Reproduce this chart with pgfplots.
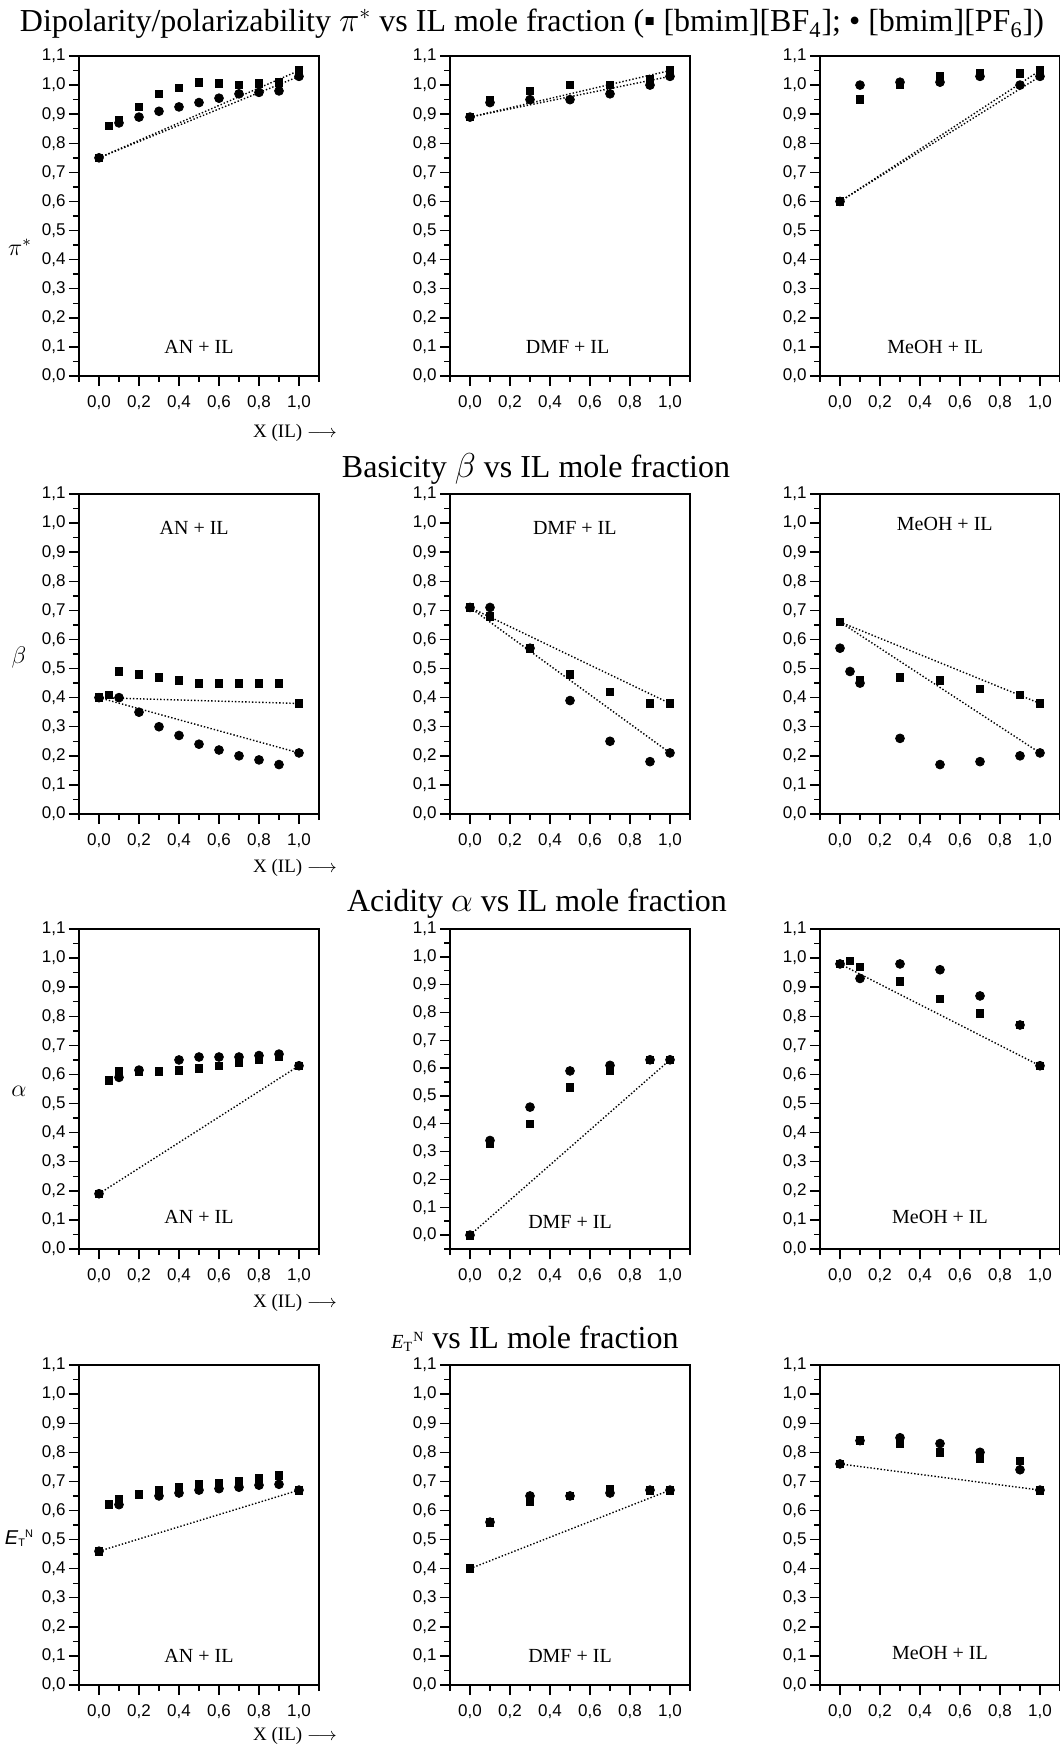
\documentclass[border=0pt]{standalone}
\usepackage{fontspec}
\setmainfont{Liberation Serif}
\setsansfont{Liberation Sans}
\usepackage{pgfplots}
\pgfplotsset{compat=1.18}

\pgfplotsset{
  panel/.style={
    scale only axis, width=120pt, height=160pt,
    xmin=-0.1, xmax=1.1, ymin=0, ymax=1.1,
    xtick={0,0.2,0.4,0.6,0.8,1.0},
    minor xtick={-0.1,0.1,0.3,0.5,0.7,0.9,1.1},
    ytick={0,0.1,0.2,0.3,0.4,0.5,0.6,0.7,0.8,0.9,1.0,1.1},
    minor ytick={0.05,0.15,0.25,0.35,0.45,0.55,0.65,0.75,0.85,0.95,1.05},
    tick pos=left, tick align=outside,
    major tick length=5pt, minor tick length=3pt,
    axis line style={line width=0.9pt},
    every tick/.style={black, line width=0.7pt},
    tick label style={font=\sffamily\fontsize{8.5}{10}\selectfont,
      /pgf/number format/fixed, /pgf/number format/fixed zerofill,
      /pgf/number format/precision=1, /pgf/number format/use comma,
      /pgf/number format/assume math mode=true},
    xticklabel style={yshift=-1.5pt},
    yticklabel style={inner xsep=1.5pt},
    clip=false,
  },
  bf/.style={only marks, mark=square*, mark size=1.9pt, black},
  pf/.style={only marks, mark=*, mark size=2.2pt, black},
  ideal/.style={densely dotted, line width=0.7pt, black, mark=none},
}
\tikzset{lab/.style={font=\fontsize{10}{12}\selectfont},
  ttl/.style={font=\fontsize{16}{19}\selectfont},
  xl/.style={font=\fontsize{9.5}{11}\selectfont}}

\begin{document}
\begin{tikzpicture}
\useasboundingbox (0,0) rectangle (530pt,-873pt);

% ---------- row 1: pi* ----------
\begin{axis}[panel, at={(39.5pt,-28pt)}, anchor=north west]
\addplot[ideal] coordinates {(0,0.75) (1,1.05)};
\addplot[ideal] coordinates {(0,0.75) (1,1.03)};
\addplot[bf] coordinates {(0,0.75) (0.05,0.86) (0.1,0.88) (0.2,0.925) (0.3,0.97) (0.4,0.99) (0.5,1.01) (0.6,1.005) (0.7,1.0) (0.8,1.005) (0.9,1.01) (1,1.05)};
\addplot[pf] coordinates {(0,0.75) (0.1,0.87) (0.2,0.89) (0.3,0.91) (0.4,0.925) (0.5,0.94) (0.6,0.955) (0.7,0.97) (0.8,0.975) (0.9,0.98) (1,1.03)};
\node[lab] at (rel axis cs:0.5,0.09) {AN + IL};
\end{axis}
\begin{axis}[panel, at={(225pt,-28pt)}, anchor=north west]
\addplot[ideal] coordinates {(0,0.89) (1,1.05)};
\addplot[ideal] coordinates {(0,0.89) (1,1.03)};
\addplot[bf] coordinates {(0,0.89) (0.1,0.947) (0.3,0.98) (0.5,1.0) (0.7,1.0) (0.9,1.02) (1,1.05)};
\addplot[pf] coordinates {(0,0.89) (0.1,0.94) (0.3,0.95) (0.5,0.95) (0.7,0.97) (0.9,1.0) (1,1.03)};
\node[lab] at (rel axis cs:0.49,0.09) {DMF + IL};
\end{axis}
\begin{axis}[panel, at={(410pt,-28pt)}, anchor=north west]
\addplot[ideal] coordinates {(0,0.60) (1,1.05)};
\addplot[ideal] coordinates {(0,0.60) (1,1.03)};
\addplot[bf] coordinates {(0,0.60) (0.1,0.95) (0.3,1.0) (0.5,1.03) (0.7,1.04) (0.9,1.04) (1,1.05)};
\addplot[pf] coordinates {(0,0.60) (0.1,1.0) (0.3,1.01) (0.5,1.01) (0.7,1.03) (0.9,1.0) (1,1.03)};
\node[lab] at (rel axis cs:0.48,0.09) {MeOH + IL};
\end{axis}

% ---------- row 2: beta ----------
\begin{axis}[panel, at={(39.5pt,-247pt)}, anchor=north west]
\addplot[ideal] coordinates {(0,0.40) (1,0.38)};
\addplot[ideal] coordinates {(0,0.40) (1,0.21)};
\addplot[bf] coordinates {(0,0.40) (0.05,0.41) (0.1,0.49) (0.2,0.48) (0.3,0.47) (0.4,0.46) (0.5,0.45) (0.6,0.45) (0.7,0.45) (0.8,0.45) (0.9,0.45) (1,0.38)};
\addplot[pf] coordinates {(0,0.40) (0.1,0.40) (0.2,0.35) (0.3,0.30) (0.4,0.27) (0.5,0.24) (0.6,0.22) (0.7,0.20) (0.8,0.186) (0.9,0.17) (1,0.21)};
\node[lab] at (rel axis cs:0.48,0.895) {AN + IL};
\end{axis}
\begin{axis}[panel, at={(225pt,-247pt)}, anchor=north west]
\addplot[ideal] coordinates {(0,0.71) (1,0.38)};
\addplot[ideal] coordinates {(0,0.71) (1,0.21)};
\addplot[bf] coordinates {(0,0.71) (0.1,0.68) (0.3,0.57) (0.5,0.48) (0.7,0.42) (0.9,0.38) (1,0.38)};
\addplot[pf] coordinates {(0,0.71) (0.1,0.71) (0.3,0.57) (0.5,0.39) (0.7,0.25) (0.9,0.18) (1,0.21)};
\node[lab] at (rel axis cs:0.52,0.895) {DMF + IL};
\end{axis}
\begin{axis}[panel, at={(410pt,-247pt)}, anchor=north west]
\addplot[ideal] coordinates {(0,0.66) (1,0.38)};
\addplot[ideal] coordinates {(0,0.66) (1,0.21)};
\addplot[bf] coordinates {(0,0.66) (0.1,0.46) (0.3,0.47) (0.5,0.46) (0.7,0.43) (0.9,0.41) (1,0.38)};
\addplot[pf] coordinates {(0,0.57) (0.05,0.49) (0.1,0.45) (0.3,0.26) (0.5,0.17) (0.7,0.18) (0.9,0.20) (1,0.21)};
\node[lab] at (rel axis cs:0.52,0.905) {MeOH + IL};
\end{axis}

% ---------- row 3: alpha ----------
\begin{axis}[panel, at={(39.5pt,-464.5pt)}, anchor=north west]
\addplot[ideal] coordinates {(0,0.19) (1,0.63)};
\addplot[bf] coordinates {(0,0.19) (0.05,0.58) (0.1,0.61) (0.2,0.61) (0.3,0.61) (0.4,0.613) (0.5,0.62) (0.6,0.63) (0.7,0.64) (0.8,0.65) (0.9,0.66) (1,0.63)};
\addplot[pf] coordinates {(0,0.19) (0.1,0.59) (0.2,0.615) (0.4,0.65) (0.5,0.66) (0.6,0.66) (0.7,0.66) (0.8,0.665) (0.9,0.67) (1,0.63)};
\node[lab] at (rel axis cs:0.5,0.1) {AN + IL};
\end{axis}
\begin{axis}[panel, ymin=-0.05, minor ytick={-0.05,0.05,0.15,0.25,0.35,0.45,0.55,0.65,0.75,0.85,0.95,1.05},
  at={(225pt,-464.5pt)}, anchor=north west]
\addplot[ideal] coordinates {(0,0.0) (1,0.63)};
\addplot[bf] coordinates {(0,0.0) (0.1,0.33) (0.3,0.40) (0.5,0.53) (0.7,0.59) (0.9,0.63) (1,0.63)};
\addplot[pf] coordinates {(0,0.0) (0.1,0.34) (0.3,0.46) (0.5,0.59) (0.7,0.61) (0.9,0.63) (1,0.63)};
\node[lab] at (rel axis cs:0.5,0.085) {DMF + IL};
\end{axis}
\begin{axis}[panel, at={(410pt,-464.5pt)}, anchor=north west]
\addplot[ideal] coordinates {(0,0.98) (1,0.63)};
\addplot[bf] coordinates {(0,0.98) (0.05,0.99) (0.1,0.97) (0.3,0.92) (0.5,0.86) (0.7,0.81) (0.9,0.77) (1,0.63)};
\addplot[pf] coordinates {(0,0.98) (0.1,0.93) (0.3,0.98) (0.5,0.96) (0.7,0.87) (0.9,0.77) (1,0.63)};
\node[lab] at (rel axis cs:0.5,0.1) {MeOH + IL};
\end{axis}

% ---------- row 4: E_T^N ----------
\begin{axis}[panel, at={(39.5pt,-682.5pt)}, anchor=north west]
\addplot[ideal] coordinates {(0,0.46) (1,0.67)};
\addplot[bf] coordinates {(0,0.46) (0.05,0.62) (0.1,0.64) (0.2,0.655) (0.3,0.67) (0.4,0.68) (0.5,0.69) (0.6,0.693) (0.7,0.70) (0.8,0.71) (0.9,0.72) (1,0.67)};
\addplot[pf] coordinates {(0,0.46) (0.1,0.62) (0.3,0.65) (0.4,0.66) (0.5,0.67) (0.6,0.675) (0.7,0.68) (0.8,0.687) (0.9,0.69) (1,0.67)};
\node[lab] at (rel axis cs:0.5,0.09) {AN + IL};
\end{axis}
\begin{axis}[panel, at={(225pt,-682.5pt)}, anchor=north west]
\addplot[ideal] coordinates {(0,0.40) (1,0.67)};
\addplot[pf] coordinates {(0.1,0.56) (0.3,0.65) (0.5,0.65) (0.7,0.66) (0.9,0.67) (1,0.67)};
\addplot[bf] coordinates {(0,0.40) (0.1,0.56) (0.3,0.63) (0.5,0.65) (0.7,0.672) (0.9,0.67) (1,0.67)};
\node[lab] at (rel axis cs:0.5,0.09) {DMF + IL};
\end{axis}
\begin{axis}[panel, at={(410pt,-682.5pt)}, anchor=north west]
\addplot[ideal] coordinates {(0,0.76) (1,0.67)};
\addplot[bf] coordinates {(0,0.76) (0.1,0.84) (0.3,0.83) (0.5,0.80) (0.7,0.78) (0.9,0.77) (1,0.67)};
\addplot[pf] coordinates {(0,0.76) (0.1,0.84) (0.3,0.85) (0.5,0.83) (0.7,0.80) (0.9,0.74) (1,0.67)};
\node[lab] at (rel axis cs:0.5,0.1) {MeOH + IL};
\end{axis}

% ---------- titles and labels ----------
\node[ttl] at (266pt,-12pt) {Dipolarity/polarizability $\pi^*$ vs IL mole fraction (▪ [bmim][BF\textsubscript{4}]; • [bmim][PF\textsubscript{6}])};
\node[ttl] at (268pt,-234.5pt) {Basicity $\beta$ vs IL mole fraction};
\node[ttl] at (268.5pt,-452pt) {Acidity $\alpha$ vs IL mole fraction};
\node[ttl] at (267.5pt,-669.5pt) {{\fontsize{10}{12}\selectfont\textit{E}\textsubscript{T}\textsuperscript{N}} vs IL mole fraction};

\node[xl] at (147.5pt,-216.5pt) {X (IL) $\longrightarrow$};
\node[xl] at (147.5pt,-434pt) {X (IL) $\longrightarrow$};
\node[xl] at (147.5pt,-651.5pt) {X (IL) $\longrightarrow$};
\node[xl] at (147.5pt,-868pt) {X (IL) $\longrightarrow$};

\node[font=\fontsize{12}{14}\selectfont] at (10pt,-123.5pt) {$\pi^*$};
\node[font=\fontsize{12}{14}\selectfont] at (9.5pt,-328.5pt) {$\beta$};
\node[font=\fontsize{12}{14}\selectfont] at (9.5pt,-545.5pt) {$\alpha$};
\node[font=\sffamily\fontsize{10}{12}\selectfont, inner sep=0pt] at (9.5pt,-769pt) {\textit{E}{\fontsize{5.5}{6}\selectfont\raisebox{-1.2pt}{T}\raisebox{3.5pt}{N}}};
\end{tikzpicture}
\end{document}
